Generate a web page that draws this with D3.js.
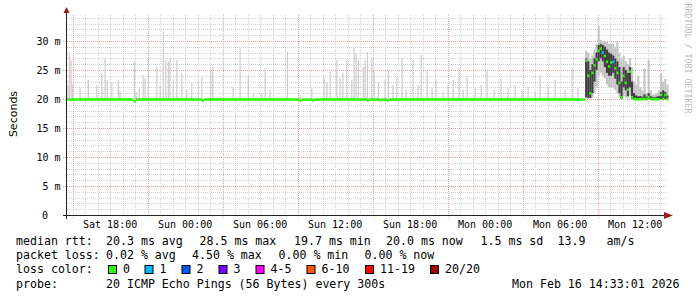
<!DOCTYPE html>
<html>
<head>
<meta charset="utf-8">
<script src="https://cdn.jsdelivr.net/npm/d3@7"></script>
<style>
  body { margin: 0; background: #fff; }
  svg text { font-family: "DejaVu Sans Mono", monospace; white-space: pre; }
</style>
</head>
<body>
<div id="chart"></div>
<script>
// time range of the graph (48 hours)
var startTime = new Date(2026, 1, 14, 14, 33, 1),
    endTime = new Date(2026, 1, 16, 14, 33, 1);

// flat part: median rtt in ms, [hours after start, value]
var flatHours  = [0, 5.3, 5.5, 10.8, 10.95, 18.6, 18.75, 19.6, 19.75, 24.0, 24.15, 25.0, 25.15, 25.6, 25.75, 41.44];
var flatMedian = [19.9, 19.6, 19.9, 19.7, 19.9, 19.7, 19.9, 19.75, 19.9, 19.75, 19.9, 19.75, 19.9, 19.75, 19.9, 19.9];

// single outlier pings in the quiet part: hours after start, top in ms
var spikeHours = [0.06, 0.18, 0.32, 0.44, 1.04, 1.70, 2.38, 2.78, 3.04, 3.20, 3.58, 4.10, 4.24, 5.38, 5.52, 5.78,
  6.08, 6.24, 6.50, 7.18, 7.44, 7.70, 7.90, 8.10, 8.24, 8.50, 8.78, 9.18, 9.58, 9.98, 10.50, 10.78, 11.50, 11.66,
  13.28, 13.84, 14.50, 14.90, 15.58, 15.84, 16.24, 17.62, 18.64, 19.58, 20.56, 20.78, 21.04, 21.58, 21.84, 22.06,
  22.38, 22.78, 22.96, 23.12, 23.30, 23.70, 23.84, 24.02, 24.38, 24.56, 24.90, 25.44, 25.70, 26.06, 26.38, 26.80,
  27.12, 27.68, 28.08, 28.32, 28.80, 29.20, 29.52, 30.08, 30.48, 30.88, 31.36, 31.68, 32.00, 32.64, 33.12, 33.60,
  34.16, 34.72, 35.28, 35.84, 36.40, 36.88, 37.44, 37.84, 38.48, 39.04, 39.84, 40.40, 40.88];
var spikeTop = [22.4, 28.1, 26.7, 22.4, 21.9, 23.3, 22.4, 24.5, 27.1, 23.3, 22.9, 23.3, 21.6, 26.4, 21.2, 21.9,
  24.1, 23.6, 26.7, 25.5, 22.4, 31.6, 26.7, 26.4, 27.1, 23.3, 26.7, 24.5, 21.6, 22.8, 22.8, 23.8, 25.3, 25.5,
  22.1, 28.8, 24.1, 21.0, 21.0, 25.3, 21.6, 28.1, 20.7, 21.9, 23.8, 22.9, 24.7, 26.7, 23.6, 24.5,
  26.7, 23.3, 28.8, 27.9, 26.7, 25.5, 26.7, 28.1, 27.2, 24.7, 22.8, 23.3, 25.0, 22.4, 23.8, 27.1,
  21.6, 26.7, 22.4, 27.6, 25.0, 21.9, 23.3, 21.2, 22.4, 23.3, 25.3, 21.6, 24.0, 21.9, 22.4, 25.0,
  21.6, 23.6, 21.9, 22.4, 21.6, 22.1, 21.2, 24.1, 21.9, 23.3, 21.6, 25.3, 21.9];

// busy part on Monday, one sample every 10 minutes
var busyTimes = ["08:00", "08:10", "08:20", "08:30", "08:40", "08:50", "09:00", "09:10", "09:20", "09:30",
  "09:40", "09:50", "10:00", "10:10", "10:20", "10:30", "10:40", "10:50", "11:00", "11:10",
  "11:20", "11:30", "11:40", "11:50", "12:00", "12:10", "12:20", "12:30", "12:40", "12:50",
  "13:00", "13:10", "13:20", "13:30", "13:40", "13:50", "14:00", "14:10", "14:20", "14:30"];
var busyMedian = [26.6, 24.0, 21.0, 24.5, 25.8, 26.8, 28.3, 28.7, 28.0, 27.4,
  26.4, 25.6, 26.3, 26.4, 25.3, 24.5, 22.8, 20.3, 24.0, 22.8,
  21.6, 24.7, 20.3, 20.0, 19.95, 19.95, 19.95, 19.95, 20.0, 19.95,
  20.3, 20.0, 19.95, 19.95, 19.95, 19.95, 20.7, 20.0, 20.7, 20.0];
var busyLoss = [0, 0, 0, 0, 0, 0, 0, 0, 1, 0,
  0, 0, 0, 1, 0, 0, 0, 0, 0, 0,
  0, 0, 0, 0, 0, 0, 0, 0, 0, 0,
  0, 0, 0, 0, 0, 0, 0, 0, 0, 0];
var innerLo = [20.3, 20.2, 20.2, 21.0, 23.0, 25.0, 26.5, 27.0, 26.5, 25.5,
  24.5, 24.0, 24.0, 24.5, 23.5, 22.5, 21.0, 20.0, 22.0, 21.5,
  20.5, 22.0, 20.0, 19.9, 19.9, 19.9, 19.9, 19.9, 19.9, 19.9,
  20.0, 19.9, 19.9, 19.9, 19.9, 19.9, 20.0, 19.9, 20.0, 19.9];
var innerHi = [27.0, 26.5, 25.0, 26.0, 27.0, 28.0, 29.3, 29.5, 29.3, 29.0,
  28.5, 28.0, 27.8, 27.5, 27.0, 26.5, 25.5, 23.0, 25.5, 25.0,
  24.5, 25.5, 23.0, 21.0, 20.6, 20.5, 20.5, 20.4, 20.8, 20.4,
  21.0, 20.5, 20.3, 20.3, 20.4, 20.5, 21.2, 21.5, 21.2, 20.6];
var outerLo = [20.0, 20.0, 20.0, 20.2, 21.0, 22.0, 24.0, 24.5, 24.0, 23.5,
  22.5, 22.0, 22.0, 22.0, 21.5, 21.0, 20.3, 19.9, 20.5, 20.3,
  20.1, 20.5, 19.9, 19.8, 19.8, 19.8, 19.8, 19.8, 19.8, 19.8,
  19.9, 19.8, 19.8, 19.8, 19.8, 19.8, 19.9, 19.8, 19.9, 19.8];
var outerHi = [28.3, 28.0, 27.0, 27.5, 28.5, 29.5, 32.5, 30.2, 30.0, 30.0,
  29.8, 29.5, 29.5, 29.5, 29.0, 30.0, 28.0, 27.0, 27.5, 26.5,
  26.0, 27.0, 25.5, 23.0, 22.5, 24.0, 22.0, 21.5, 25.3, 21.0,
  26.7, 21.5, 20.8, 20.8, 21.0, 21.5, 24.5, 23.0, 23.5, 22.5];

// y axis labels
var yMajor = [0, 5, 10, 15, 20, 25, 30];
var yLabels = ["0", "5 m", "10 m", "15 m", "20 m", "25 m", "30 m"];

// legend
var lossNames = ["0", "1", "2", "3", "4-5", "6-10", "11-19", "20/20"];
var lossColors = ["#26ff00", "#00b8ff", "#0059ff", "#7e00ff", "#ff00ff", "#ff5500", "#ff0000", "#a10000"];
var rttItems = [["median rtt:", 16], ["20.3 ms avg", 106], ["28.5 ms max", 199.5], ["19.7 ms min", 294],
  ["20.0 ms now", 386], ["1.5 ms sd", 480.5], ["13.9", 557.5], ["am/s", 606.5]];
var lossItems = [["packet loss:", 16], ["0.02 % avg", 106], ["4.50 % max", 192], ["0.00 % min", 278.5], ["0.00 % now", 364.5]];
var probeItems = [["probe:", 16], ["20 ICMP Echo Pings (56 Bytes) every 300s", 106], ["Mon Feb 16 14:33:01 2026", 512]];
var boxX = [108.5, 145, 182, 219, 256, 307, 365.5, 430.5];

var svg = d3.select("#chart").append("svg")
    .attr("width", 697)
    .attr("height", 297);

var x = d3.scaleTime()
    .domain([startTime, endTime])
    .range([67, 667]);
var y = d3.scaleLinear()
    .domain([0, 34.48])
    .range([215, 15]);

function hoursToDate(h) { return d3.timeSecond.offset(startTime, Math.round(h * 3600)); }
function mondayAt(s) {
  var p = s.split(":");
  return new Date(2026, 1, 16, +p[0], +p[1], 0);
}

// grid
var grid = svg.append("g");
grid.selectAll(".hmin").data(y.ticks(34)).enter().append("line")
    .attr("x1", 67).attr("x2", 667)
    .attr("y1", function(d) { return Math.round(y(d)) + 0.5; })
    .attr("y2", function(d) { return Math.round(y(d)) + 0.5; })
    .style("stroke", "#d4d4d4").style("stroke-dasharray", "1,1");
grid.selectAll(".vmin").data(x.ticks(d3.timeHour.every(1))).enter().append("line")
    .attr("x1", function(d) { return Math.round(x(d)) + 0.5; })
    .attr("x2", function(d) { return Math.round(x(d)) + 0.5; })
    .attr("y1", 15).attr("y2", 215)
    .style("stroke", "#d4d4d4").style("stroke-dasharray", "1,1");
grid.selectAll(".hmaj").data(yMajor).enter().append("line")
    .attr("x1", 63).attr("x2", 667)
    .attr("y1", function(d) { return Math.round(y(d)) + 0.5; })
    .attr("y2", function(d) { return Math.round(y(d)) + 0.5; })
    .style("stroke", "#eea0a0").style("stroke-dasharray", "1,1");
var majorHours = x.ticks(d3.timeHour.filter(function(d) { return d.getHours() % 6 === 3; }));
grid.selectAll(".vmaj").data(majorHours).enter().append("line")
    .attr("x1", function(d) { return Math.round(x(d)) + 0.5; })
    .attr("x2", function(d) { return Math.round(x(d)) + 0.5; })
    .attr("y1", 15).attr("y2", 219)
    .style("stroke", "#eea0a0").style("stroke-dasharray", "1,1");

// smoke: outliers in the quiet part
var plot = svg.append("g");
plot.selectAll(".spike").data(spikeHours).enter().append("rect")
    .attr("x", function(d) { return x(hoursToDate(d)) - 0.5; })
    .attr("width", 1.2)
    .attr("y", function(d, i) { return y(spikeTop[i]); })
    .attr("height", function(d, i) { return y(19.9) - y(spikeTop[i]); })
    .style("fill", "#cccccc");

// smoke: busy part
var bw = x(mondayAt("08:10")) - x(mondayAt("08:00"));
plot.selectAll(".outer").data(busyTimes).enter().append("rect")
    .attr("x", function(d) { return x(mondayAt(d)); })
    .attr("width", bw)
    .attr("y", function(d, i) { return y(outerHi[i]); })
    .attr("height", function(d, i) { return y(outerLo[i]) - y(outerHi[i]); })
    .style("fill", "#c4c4c4");
plot.selectAll(".inner").data(busyTimes).enter().append("rect")
    .attr("x", function(d) { return x(mondayAt(d)); })
    .attr("width", bw)
    .attr("y", function(d, i) { return y(innerHi[i]); })
    .attr("height", function(d, i) { return y(innerLo[i]) - y(innerHi[i]); })
    .style("fill", "#404040");

// median line, drawn as one short segment per sample
var flatSegs = flatHours.slice(0, -1).map(function(h, i) {
  return {x1: x(hoursToDate(h)), x2: x(hoursToDate(flatHours[i + 1])), v: flatMedian[i], loss: 0};
});
var busySegs = busyTimes.map(function(t, i) {
  return {x1: x(mondayAt(t)), x2: x(mondayAt(t)) + bw, v: busyMedian[i], loss: busyLoss[i]};
});
plot.selectAll(".med").data(flatSegs.concat(busySegs)).enter().append("line")
    .attr("x1", function(d) { return d.x1; })
    .attr("x2", function(d) { return d.x2; })
    .attr("y1", function(d) { return y(d.v); })
    .attr("y2", function(d) { return y(d.v); })
    .style("stroke", function(d) { return lossColors[d.loss]; })
    .style("stroke-width", 2.6);

// axes
svg.append("line").attr("x1", 63).attr("x2", 670).attr("y1", 215.5).attr("y2", 215.5).style("stroke", "#222");
svg.append("line").attr("x1", 66.5).attr("x2", 66.5).attr("y1", 219).attr("y2", 12).style("stroke", "#222");
svg.append("path").attr("d", "M664,212L673,215.5L664,219Z").style("fill", "#a01818");
svg.append("path").attr("d", "M63.5,13L66.5,7L69.5,13Z").style("fill", "#a01818");

svg.selectAll(".ylab").data(yMajor).enter().append("text")
    .attr("x", function(d) { return d === 0 ? 48 : 60.5; })
    .attr("y", function(d) { return y(d) + 4; })
    .attr("text-anchor", "end")
    .style("font-size", "10px")
    .style("fill", "#000")
    .text(function(d, i) { return yLabels[i]; });

var fmt = d3.timeFormat("%a %H:%M");
svg.selectAll(".xlab").data(x.ticks(d3.timeHour.every(6))).enter().append("text")
    .attr("x", function(d) { return x(d); })
    .attr("y", 228)
    .attr("text-anchor", "middle")
    .style("font-size", "10px")
    .text(function(d) { return fmt(d); });

svg.append("text")
    .attr("transform", "translate(16.5,114) rotate(-90)")
    .attr("text-anchor", "middle")
    .style("font-family", "'DejaVu Sans', sans-serif")
    .style("font-size", "11px")
    .text("Seconds");

svg.append("text")
    .attr("transform", "translate(685,3.5) rotate(90)")
    .style("font-size", "8.3px")
    .style("fill", "#bbbbbb")
    .text("RRDTOOL / TOBI OETIKER");

// legend
function legendRow(items, base) {
  svg.selectAll(null).data(items).enter().append("text")
      .attr("x", function(d) { return d[1]; })
      .attr("y", base)
      .style("font-size", "11.6px")
      .text(function(d) { return d[0]; });
}
legendRow(rttItems, 245);
legendRow(lossItems, 259);
legendRow([["loss color:", 16]], 273);
legendRow(probeItems, 287.5);

svg.selectAll(".lbox").data(lossNames).enter().append("rect")
    .attr("x", function(d, i) { return boxX[i]; })
    .attr("y", 265.5)
    .attr("width", 8).attr("height", 8)
    .style("fill", function(d, i) { return lossColors[i]; })
    .style("stroke", "#000").style("stroke-width", 1);
svg.selectAll(".lname").data(lossNames).enter().append("text")
    .attr("x", function(d, i) { return boxX[i] + 14.5; })
    .attr("y", 273)
    .style("font-size", "11.6px")
    .text(function(d) { return d; });
</script>
</body>
</html>
